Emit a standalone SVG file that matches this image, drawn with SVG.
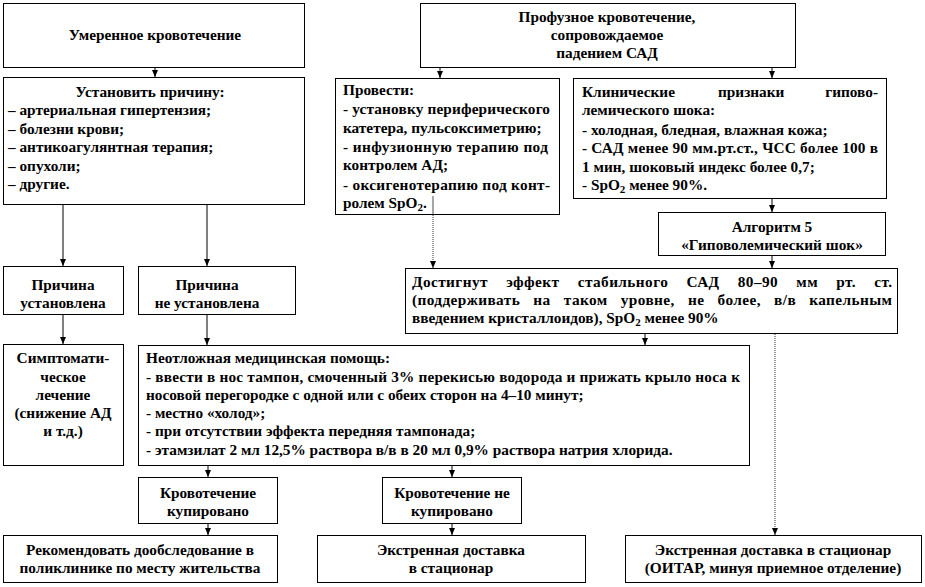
<svg xmlns="http://www.w3.org/2000/svg" width="925" height="587" viewBox="0 0 925 587">
<style>
.b{fill:#fff;stroke:#000;stroke-width:1}
.t{font-family:'Liberation Serif','Times New Roman',serif;font-weight:bold;font-size:15.3px;fill:#000}
.m{text-anchor:middle}
.e{text-anchor:end}
.s{font-size:11px}
.c{stroke:#000;stroke-width:1;fill:none}
.d{stroke:#333;stroke-width:1;fill:none;stroke-dasharray:1 1}
</style>
<defs>
<marker id="ah" markerWidth="7" markerHeight="6" refX="7" refY="3" orient="auto" markerUnits="userSpaceOnUse" viewBox="0 0 7 6">
<path d="M0,0 L7,3 L0,6 Z" fill="#000"/>
</marker>
</defs>
<rect width="925" height="587" fill="#fff"/>
<g id="n1">
<rect class="b" x="3.5" y="3.5" width="301" height="64"/>
<text class="t m" x="155" y="40">Умеренное кровотечение</text>
</g>
<g id="n2">
<rect class="b" x="420.5" y="3.5" width="375" height="64"/>
<text class="t m" x="607" y="22">Профузное  кровотечение,</text>
<text class="t m" x="607" y="40">сопровождаемое</text>
<text class="t m" x="607" y="58">падением САД</text>
</g>
<g id="n3">
<rect class="b" x="3.5" y="77.5" width="301" height="127"/>
<text class="t m" x="150" y="97">Установить причину:</text>
<text class="t" x="8" y="115">– артериальная гипертензия;</text>
<text class="t" x="8" y="134">– болезни крови;</text>
<text class="t" x="8" y="152">– антикоагулянтная  терапия;</text>
<text class="t" x="8" y="171">– опухоли;</text>
<text class="t" x="8" y="189">– другие.</text>
</g>
<g id="n4">
<rect class="b" x="335.5" y="78.5" width="224" height="136"/>
<text class="t" x="343" y="95">Провести:</text>
<text class="t" x="343" y="114" textLength="207" lengthAdjust="spacing">- установку периферического</text>
<text class="t" x="343" y="133">катетера, пульсоксиметрию;</text>
<text class="t" x="343" y="152" textLength="205" lengthAdjust="spacing">- инфузионную  терапию под</text>
<text class="t" x="343" y="170">контролем АД;</text>
<text class="t" x="343" y="190" textLength="207" lengthAdjust="spacing">- оксигенотерапию под конт-</text>
<text class="t" x="343" y="208">ролем SpO<tspan class="s" dy="3">2</tspan><tspan dy="-3">.</tspan></text>
</g>
<g id="n5">
<rect class="b" x="573.5" y="78.5" width="313" height="120"/>
<text class="t" x="582" y="97">Клинические</text>
<text class="t" x="718" y="97">признаки</text>
<text class="t e" x="878" y="97">гипово-</text>
<text class="t" x="582" y="115">лемического шока:</text>
<text class="t" x="582" y="135">- холодная, бледная, влажная кожа;</text>
<text class="t" x="582" y="153" textLength="296" lengthAdjust="spacing">- САД менее 90 мм.рт.ст., ЧСС более 100 в</text>
<text class="t" x="582" y="172">1 мин, шоковый индекс более 0,7;</text>
<text class="t" x="582" y="190">- SpO<tspan class="s" dy="3">2</tspan><tspan dy="-3"> менее 90%.</tspan></text>
</g>
<g id="n6">
<rect class="b" x="658.5" y="212.5" width="227" height="43"/>
<text class="t m" x="772" y="232">Алгоритм 5</text>
<text class="t m" x="772" y="250">«Гиповолемический шок»</text>
</g>
<g id="n7">
<rect class="b" x="405.5" y="268.5" width="492" height="65"/>
<text class="t" x="412" y="287" word-spacing="14" textLength="480" lengthAdjust="spacing">Достигнут эффект стабильного САД 80–90 мм рт. ст.</text>
<text class="t" x="412" y="305" word-spacing="9" textLength="480" lengthAdjust="spacing">(поддерживать на таком уровне, не более, в/в капельным</text>
<text class="t" x="412" y="323">введением кристаллоидов), SpO<tspan class="s" dy="3">2</tspan><tspan dy="-3"> менее 90%</tspan></text>
</g>
<g id="n8">
<rect class="b" x="3.5" y="266.5" width="120" height="48"/>
<text class="t m" x="63" y="290">Причина</text>
<text class="t m" x="63" y="308">установлена</text>
</g>
<g id="n9">
<rect class="b" x="138.5" y="266.5" width="157" height="48"/>
<text class="t m" x="207" y="290">Причина</text>
<text class="t m" x="207" y="308">не установлена</text>
</g>
<g id="n10">
<rect class="b" x="3.5" y="344.5" width="120" height="121"/>
<text class="t m" x="63" y="363">Симптомати-</text>
<text class="t m" x="63" y="382">ческое</text>
<text class="t m" x="63" y="400">лечение</text>
<text class="t m" x="63" y="418">(снижение АД</text>
<text class="t m" x="63" y="436">и т.д.)</text>
</g>
<g id="n11">
<rect class="b" x="138.5" y="345.5" width="611" height="120"/>
<text class="t" x="146" y="363">Неотложная медицинская помощь:</text>
<text class="t" x="146" y="382" textLength="594" lengthAdjust="spacing">- ввести в нос тампон, смоченный 3% перекисью водорода и прижать крыло носа к</text>
<text class="t" x="146" y="400">носовой перегородке с одной или с обеих сторон на 4–10 минут;</text>
<text class="t" x="146" y="418">- местно «холод»;</text>
<text class="t" x="146" y="436">- при отсутствии эффекта передняя тампонада;</text>
<text class="t" x="146" y="455">- этамзилат 2 мл 12,5% раствора в/в в 20 мл 0,9% раствора натрия хлорида.</text>
</g>
<g id="n12">
<rect class="b" x="138.5" y="477.5" width="139" height="46"/>
<text class="t m" x="208" y="498">Кровотечение</text>
<text class="t m" x="208" y="516">купировано</text>
</g>
<g id="n13">
<rect class="b" x="382.5" y="477.5" width="139" height="46"/>
<text class="t m" x="452" y="498">Кровотечение не</text>
<text class="t m" x="452" y="516">купировано</text>
</g>
<g id="n14">
<rect class="b" x="3.5" y="535.5" width="274" height="47"/>
<text class="t m" x="140" y="555">Рекомендовать дообследование в</text>
<text class="t m" x="140" y="573">поликлинике по месту жительства</text>
</g>
<g id="n15">
<rect class="b" x="317.5" y="535.5" width="268" height="47"/>
<text class="t m" x="451" y="555">Экстренная доставка</text>
<text class="t m" x="451" y="573">в стационар</text>
</g>
<g id="n16">
<rect class="b" x="625.5" y="535.5" width="296" height="47"/>
<text class="t m" x="773" y="555">Экстренная доставка в стационар</text>
<text class="t m" x="773" y="573">(ОИТАР, минуя приемное отделение)</text>
</g>
<g id="connectors">
<line class="c" x1="155" y1="68" x2="155" y2="77" marker-end="url(#ah)"/>
<line class="c" x1="440" y1="68" x2="440" y2="78" marker-end="url(#ah)"/>
<line class="c" x1="772" y1="68" x2="772" y2="78" marker-end="url(#ah)"/>
<line class="c" x1="63" y1="205" x2="63" y2="266" marker-end="url(#ah)"/>
<line class="c" x1="207" y1="205" x2="207" y2="266" marker-end="url(#ah)"/>
<line class="c" x1="63" y1="315" x2="63" y2="344" marker-end="url(#ah)"/>
<line class="c" x1="207" y1="315" x2="207" y2="345" marker-end="url(#ah)"/>
<line x1="433" y1="196" x2="433" y2="214" stroke="#888" stroke-width="1.5"/>
<line class="d" x1="433" y1="215" x2="433" y2="268" marker-end="url(#ah)"/>
<line class="c" x1="772" y1="199" x2="772" y2="212" marker-end="url(#ah)"/>
<line class="c" x1="772" y1="256" x2="772" y2="268" marker-end="url(#ah)"/>
<line class="c" x1="645" y1="334" x2="645" y2="345" marker-end="url(#ah)"/>
<line class="d" x1="775" y1="334" x2="775" y2="535" marker-end="url(#ah)"/>
<line class="c" x1="208" y1="466" x2="208" y2="477" marker-end="url(#ah)"/>
<line class="c" x1="452" y1="466" x2="452" y2="477" marker-end="url(#ah)"/>
<line class="c" x1="208" y1="524" x2="208" y2="535" marker-end="url(#ah)"/>
<line class="c" x1="452" y1="524" x2="452" y2="535" marker-end="url(#ah)"/>
</g>
</svg>
